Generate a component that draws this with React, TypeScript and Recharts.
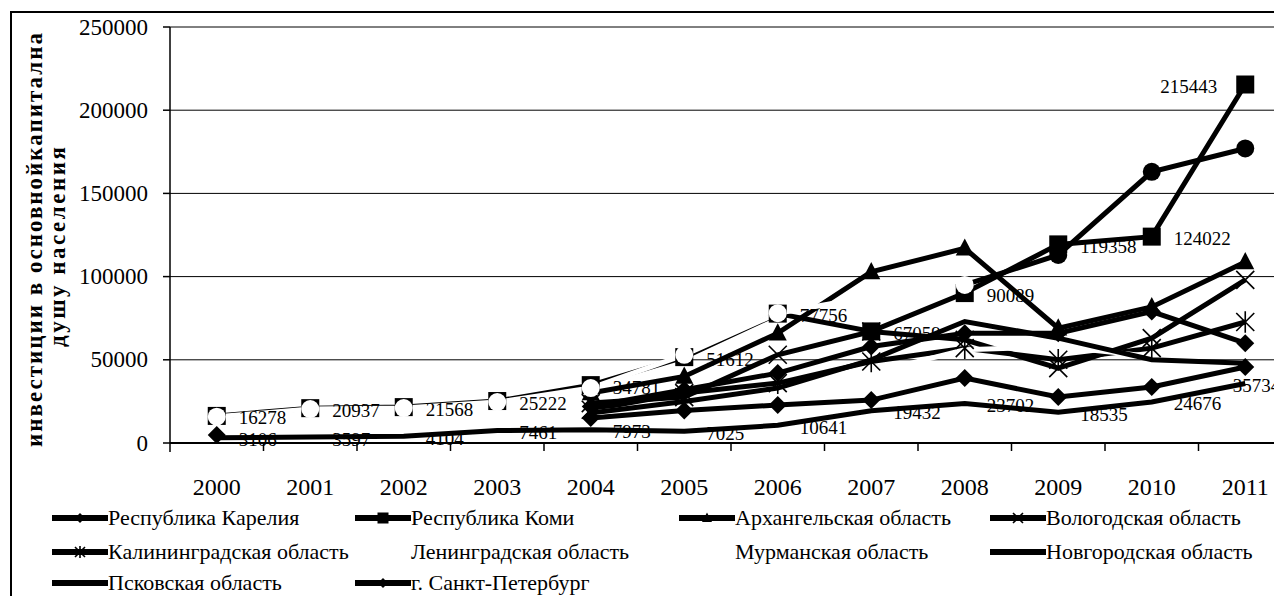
import React from 'react';
import { LineChart, Line, XAxis, YAxis, CartesianGrid, LabelList } from 'recharts';

// ---------- data ----------
const years = ['2000', '2001', '2002', '2003', '2004', '2005', '2006', '2007', '2008', '2009', '2010', '2011'];

const karelia = [4800, null, null, null, 15000, 19500, 22800, 25800, 39000, 27600, 33700, 45700];
const komi = [16278, 20937, 21568, 25222, 34781, 51612, 77756, 67059, 90089, 119358, 124022, 215443];
const arkhangelsk = [null, null, null, null, 30000, 40000, 66000, 102800, 117000, 69000, 81800, 108800];
const vologda = [null, null, null, null, 24000, 27600, 53000, 67000, 62000, 45000, 63000, 98000];
const kaliningrad = [null, null, null, null, 20000, 30000, 36000, 49000, 57000, 50000, 57000, 72700];
const leningrad = [15800, 20400, 21000, 24600, 33000, 53000, 78000, 88000, 95000, 113000, 163000, 177000];
const murmansk = [3600, 4100, 4600, 8000, 18000, 24000, 30000, 42000, 56000, 58000, 52000, 62000];
const novgorod = [null, null, null, null, 18000, 25000, 33000, 50000, 73000, 63000, 50000, 48000];
const pskov = [3106, 3597, 4104, 7461, 7973, 7025, 10641, 19432, 23702, 18535, 24676, 35734];
const spb = [null, null, null, null, 22000, 32000, 42000, 58000, 66000, 66000, 79000, 60000];

const yTicks = [0, 50000, 100000, 150000, 200000, 250000];
const yTitle1 = 'инвестиции в основнойкапитална';
const yTitle2 = 'душу населения';

type Shape = 'diamond' | 'square' | 'triangle' | 'x' | 'asterisk' | 'circle' | 'none';

interface SeriesDef {
  key: string;
  name: string;
  values: (number | null)[];
  shape: Shape;
  color: string;
}

const series: SeriesDef[] = [
  { key: 'karelia', name: 'Республика Карелия', values: karelia, shape: 'diamond', color: '#000' },
  { key: 'komi', name: 'Республика Коми', values: komi, shape: 'square', color: '#000' },
  { key: 'arkhangelsk', name: 'Архангельская область', values: arkhangelsk, shape: 'triangle', color: '#000' },
  { key: 'vologda', name: 'Вологодская область', values: vologda, shape: 'x', color: '#000' },
  { key: 'kaliningrad', name: 'Калининградская область', values: kaliningrad, shape: 'asterisk', color: '#000' },
  { key: 'leningrad', name: 'Ленинградская область', values: leningrad, shape: 'circle', color: '#fff' },
  { key: 'murmansk', name: 'Мурманская область', values: murmansk, shape: 'none', color: '#fff' },
  { key: 'novgorod', name: 'Новгородская область', values: novgorod, shape: 'none', color: '#000' },
  { key: 'pskov', name: 'Псковская область', values: pskov, shape: 'none', color: '#000' },
  { key: 'spb', name: 'г. Санкт-Петербург', values: spb, shape: 'diamond', color: '#000' },
];

const data = years.map((year, i) => {
  const row: Record<string, string | number | null> = { year };
  series.forEach((s) => {
    row[s.key] = s.values[i];
  });
  return row;
});

// ---------- layout ----------
const FONT = '"Liberation Serif", "Times New Roman", serif';
const W = 1284;
const H = 588;
const Y_AXIS_W = 162;
const BAND = (W - Y_AXIS_W) / years.length;
const LEN_SWITCH = 8 / 11;

function marker(shape: Shape, cx: number, cy: number, s: number, fill: string, key?: string) {
  switch (shape) {
    case 'diamond':
      return <path key={key} d={`M${cx},${cy - s}L${cx + s},${cy}L${cx},${cy + s}L${cx - s},${cy}Z`} fill={fill} />;
    case 'square':
      return <rect key={key} x={cx - s} y={cy - s} width={2 * s} height={2 * s} fill={fill} />;
    case 'triangle':
      return <path key={key} d={`M${cx},${cy - s * 1.1}L${cx + s},${cy + s * 0.8}L${cx - s},${cy + s * 0.8}Z`} fill={fill} />;
    case 'circle':
      return <circle key={key} cx={cx} cy={cy} r={s} fill={fill} />;
    case 'x':
      return (
        <path key={key} d={`M${cx - s},${cy - s}L${cx + s},${cy + s}M${cx - s},${cy + s}L${cx + s},${cy - s}`} stroke={fill} strokeWidth={1.6} fill="none" />
      );
    case 'asterisk':
      return (
        <path
          key={key}
          d={`M${cx - s},${cy - s}L${cx + s},${cy + s}M${cx - s},${cy + s}L${cx + s},${cy - s}M${cx},${cy - s * 1.2}L${cx},${cy + s * 1.2}`}
          stroke={fill}
          strokeWidth={1.6}
          fill="none"
        />
      );
    default:
      return null;
  }
}

const dotFor = (s: SeriesDef) => (props: any) => {
  const { cx, cy, index } = props;
  if (cx == null || cy == null || props.value == null) return <g key={`e${index}`} />;
  let fill = s.color;
  if (s.key === 'leningrad') fill = index >= 9 ? '#000' : '#fff';
  return marker(s.shape, cx, cy, 9, fill, `d${index}`);
};

const labelFor = (which: 'top' | 'bottom', last: number) => (props: any) => {
  const { x, y, value } = props;
  if (value == null || x == null || y == null) return null;
  let tx = x + 22;
  let anchor: 'start' | 'end' = 'start';
  if (value === last) {
    anchor = 'end';
    tx = which === 'top' ? x - 28 : x + 35;
  }
  return (
    <text x={tx} y={y + 2} dominantBaseline="central" textAnchor={anchor} fontFamily={FONT} fontSize={19} fill="#000">
      {value}
    </text>
  );
};

const XTick = (props: any) => {
  const { x, y, payload, index } = props;
  return (
    <g>
      <line x1={x + BAND / 2} x2={x + BAND / 2} y1={y} y2={y + 8} stroke="#000" strokeWidth={1.5} />
      {index === 0 && <line x1={x - BAND / 2} x2={x - BAND / 2} y1={y} y2={y + 9} stroke="#000" strokeWidth={1.5} />}
      <text x={x} y={y + 44} textAnchor="middle" dominantBaseline="central" fontFamily={FONT} fontSize={24} fill="#000">
        {payload.value}
      </text>
    </g>
  );
};

const YTick = (props: any) => {
  const { x, y, payload } = props;
  return (
    <text x={x} y={y} textAnchor="end" dominantBaseline="central" fontFamily={FONT} fontSize={23} fill="#000">
      {payload.value}
    </text>
  );
};

const YTitle = () => (
  <g>
    <text
      transform="translate(26,232) rotate(-90)"
      textAnchor="middle"
      dominantBaseline="central"
      fontFamily={FONT}
      fontSize={23}
      fontWeight="bold"
      fill="#000"
      textLength={414}
      lengthAdjust="spacing"
    >
      {yTitle1}
    </text>
    <text
      transform="translate(49,239) rotate(-90)"
      textAnchor="middle"
      dominantBaseline="central"
      fontFamily={FONT}
      fontSize={23}
      fontWeight="bold"
      fill="#000"
      textLength={200}
      lengthAdjust="spacing"
    >
      {yTitle2}
    </text>
  </g>
);

// legend placement (relative to wrapper)
const legendCols = [44, 347, 671, 982];
const legendRows = [510, 544, 575];

const LegendIcon = ({ s }: { s: SeriesDef }) => (
  <svg width={56} height={20} style={{ display: 'block', flex: 'none' }}>
    <line x1={1} x2={55} y1={10} y2={10} stroke={s.color} strokeWidth={6} strokeLinecap="round" />
    {s.shape !== 'none' && marker(s.shape, 28, 10, s.shape === 'square' ? 5.5 : 5, s.color)}
  </svg>
);

export default function App() {
  return (
    <div style={{ position: 'relative', width: 1274, height: H, overflow: 'hidden', background: '#fff' }}>
      <div
        style={{
          position: 'absolute',
          left: 2,
          top: 3,
          width: 1400,
          height: 700,
          borderLeft: '2px solid #000',
          borderTop: '2px solid #000',
          boxSizing: 'border-box',
        }}
      />
      <div style={{ position: 'absolute', left: 0, top: 0 }}>
        <LineChart width={W} height={H} data={data} margin={{ top: 19, right: 0, bottom: 113, left: 0 }}>
          <defs>
            <linearGradient id="lenGrad" x1="0" y1="0" x2="1" y2="0">
              <stop offset={LEN_SWITCH} stopColor="#fff" />
              <stop offset={LEN_SWITCH} stopColor="#000" />
            </linearGradient>
          </defs>
          <CartesianGrid vertical={false} stroke="#000" strokeWidth={1} />
          <XAxis
            dataKey="year"
            axisLine={{ stroke: '#000', strokeWidth: 2 }}
            tickLine={false}
            tickSize={0}
            tickMargin={0}
            tick={XTick}
            height={40}
            interval={0}
            padding={{ left: BAND / 2, right: BAND / 2 }}
          />
          <YAxis
            domain={[0, 250000]}
            ticks={yTicks}
            width={Y_AXIS_W}
            axisLine={{ stroke: '#000', strokeWidth: 1.5 }}
            tickLine={{ stroke: '#000', strokeWidth: 1.5 }}
            tickSize={7}
            tickMargin={15}
            tick={YTick}
            interval={0}
            label={<YTitle />}
          />
          {series.map((s) => (
            <Line
              key={s.key}
              type="linear"
              dataKey={s.key}
              name={s.name}
              stroke={s.key === 'leningrad' ? 'url(#lenGrad)' : s.color}
              strokeWidth={5}
              dot={s.shape === 'none' ? false : dotFor(s)}
              activeDot={false}
              connectNulls={false}
              isAnimationActive={false}
            >
              {s.key === 'komi' && <LabelList dataKey="komi" content={labelFor('top', komi[komi.length - 1])} />}
              {s.key === 'pskov' && <LabelList dataKey="pskov" content={labelFor('bottom', pskov[pskov.length - 1])} />}
            </Line>
          ))}
        </LineChart>
      </div>
      {series.map((s, i) => {
        const row = Math.floor(i / 4);
        const col = i % 4;
        return (
          <div
            key={s.key}
            style={{
              position: 'absolute',
              left: legendCols[col],
              top: legendRows[row] - 12,
              height: 24,
              display: 'flex',
              alignItems: 'center',
              whiteSpace: 'nowrap',
            }}
          >
            <LegendIcon s={s} />
            <span style={{ fontFamily: FONT, fontSize: 22, lineHeight: 1, color: '#000' }}>{s.name}</span>
          </div>
        );
      })}
    </div>
  );
}
